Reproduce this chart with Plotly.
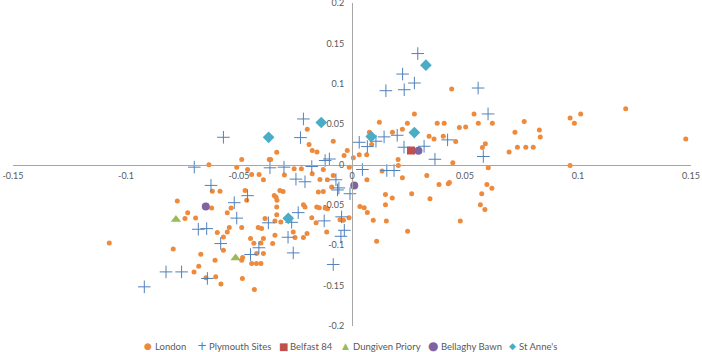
import plotly.graph_objects as go

# ---------------- data ----------------
london_x = [0.0695, 0.0732, 0.0769, 0.0802, 0.0721, 0.0762, 0.0829, 0.0833, 0.0965, 0.0984,
            0.1012, 0.1211, 0.1477, 0.0965, 0.0441, 0.054, 0.0559, 0.0621, 0.0475, 0.0503,
            0.0459, 0.0446, 0.059, 0.0577, 0.0603, 0.0426, 0.0431, 0.0597, 0.0619, 0.0574,
            0.0568, 0.0588, 0.0479, 0.0404, 0.0408, 0.0377,
            0.0276, 0.0121, 0.0179, 0.0223, 0.0245, 0.0077, 0.0087, 0.0065, 0.0032, 0.0006,
            0.0204, 0.0205, 0.0133, 0.0066, 0.0223, 0.0331, 0.0341, 0.0363, 0.0385, 0.0345,
            0.0264, 0.0178, 0.0148, 0.0148, 0.0152, 0.0246, 0.0109, 0.0094, 0.0068, 0.0054,
            0.0035, -0.0013,
            -0.0198, -0.019, -0.0176, -0.0155, -0.0083, -0.0021, -0.0035, -0.0256, -0.0224, -0.0176,
            -0.0127, -0.0012, -0.0083, -0.0109, -0.0142, -0.009, -0.0127, -0.0149, -0.0215, -0.0208,
            -0.0156, -0.0145, -0.0119, -0.0108, -0.0178, -0.0159, -0.0053, -0.0038, -0.0299,
            -0.0366, -0.036, -0.0333, -0.0444, -0.0411, -0.0392, -0.0462, -0.0488, -0.051, -0.0633,
            -0.0319, -0.0305, -0.0344, -0.0336, -0.0332, -0.0333, -0.0333, -0.0385, -0.0341, -0.0315,
            -0.0415, -0.04, -0.026, -0.0252, -0.0215, -0.0199, -0.0112, -0.0449, -0.0434, -0.0403,
            -0.0351, -0.0392, -0.0422, -0.0392, -0.0444, -0.0423, -0.0403, -0.0432, -0.0473, -0.0466,
            -0.0341, -0.0488,
            -0.0618, -0.0584, -0.0773, -0.0727, -0.0739, -0.0692, -0.0621, -0.0552, -0.0535, -0.0596,
            -0.0552, -0.0543, -0.0569, -0.1074, -0.0791, -0.0569, -0.0669, -0.0606, -0.0484, -0.0488,
            -0.0678, -0.0699, -0.0646, -0.0603, -0.058, -0.0485]
london_y = [0.0154, 0.0214, 0.0214, 0.0214, 0.0399, 0.0531, 0.0428, 0.0342, 0.0577, 0.051,
            0.0626, 0.0691, 0.0317, -0.0012, 0.0935, 0.0626, 0.051, 0.051, 0.0457, 0.0465,
            0.0284, 0.0021, 0.0256, 0.021, -0.0041, -0.0238, -0.0222, -0.0247, -0.0293, -0.0362,
            -0.0498, -0.0556, -0.07, 0.0349, 0.051, 0.0512,
            0.0626, 0.0522, 0.0399, 0.0438, 0.051, 0.0399, 0.0247, 0.012, 0.012, 0.0083,
            0.0062, -0.0012, -0.008, -0.0189, -0.0164, -0.0136, 0.0349, 0.0315, -0.0247, -0.0423,
            -0.0362, -0.0416, -0.0373, -0.0498, -0.07, -0.0827, -0.0951, -0.0691, -0.0595, -0.0537,
            -0.0521, -0.066,
            0.0436, 0.0247, 0.0173, 0.0154, 0.0288, 0.0173, 0.0111, -0.0053, -0.0053, -0.0115,
            -0.0062, -0.0033, -0.0136, -0.0189, -0.0185, -0.028, -0.0333, -0.0342, -0.0498, -0.0527,
            -0.0527, -0.0537, -0.054, -0.0547, -0.066, -0.072, -0.0683, -0.0691, -0.013,
            0.0062, 0.0062, 0.0152, -0.0123, -0.0123, -0.0188, -0.0062, 0.0062, -0.0033, -0.0004,
            -0.0321, -0.0333, -0.0383, -0.0407, -0.0444, -0.0527, -0.0621, -0.067, -0.07, -0.0712,
            -0.0781, -0.0794, -0.0836, -0.0905, -0.0905, -0.0856, -0.0836, -0.0917, -0.0975, -0.0972,
            -0.0979, -0.0917, -0.1102, -0.1102, -0.1226, -0.1226, -0.1226, -0.1547, -0.0321, -0.0444,
            -0.0877, -0.0781,
            -0.033, -0.033, -0.0453, -0.0596, -0.067, -0.0663, -0.054, -0.0596, -0.054, -0.0843,
            -0.0836, -0.0781, -0.0898, -0.0972, -0.1046, -0.1062, -0.1111, -0.1185, -0.1152, -0.1185,
            -0.1259, -0.133, -0.1404, -0.1391, -0.1481, -0.1411]

plymouth_x = [0.0291, 0.0224, 0.0276, 0.015, 0.0231, 0.0558, 0.0602, 0.0032, 0.0068, 0.0106,
              0.0142, 0.02, 0.023, 0.0319, 0.0423, 0.0367, 0.0581, 0.0046, 0.0154, 0.0186,
              -0.0228, -0.0119, -0.01, -0.0178, -0.0248, -0.0208, -0.0071, -0.0058, -0.0064, -0.0009,
              -0.0238, -0.0046, -0.0363, -0.0301, -0.0462, -0.037, -0.0267, -0.0123, -0.0034, -0.0049,
              -0.0283, -0.0412, -0.0449, -0.026, -0.0083, -0.0698, -0.0624, -0.0521, -0.051, -0.068,
              -0.0643, -0.0581, -0.0823, -0.0754, -0.0919, -0.064, -0.0569, -0.0215]
plymouth_y = [0.1374, 0.112, 0.1009, 0.0914, 0.0926, 0.0947, 0.0626, 0.0275, 0.0222, 0.0288,
              0.0342, 0.0362, 0.0214, 0.0226, 0.0305, 0.0065, 0.0099, -0.0062, -0.0074, -0.0074,
              0.0333, 0.0049, 0.0068, -0.0025, -0.0181, -0.0214, -0.0189, -0.029, -0.0315, -0.0362,
              -0.0596, -0.0648, -0.0041, -0.0033, -0.0386, -0.0722, -0.0716, -0.0698, -0.0815, -0.0889,
              -0.0901, -0.1031, -0.1115, -0.1095, -0.1238, -0.0033, -0.0259, -0.0473, -0.0664, -0.0802,
              -0.0794, -0.0979, -0.133, -0.133, -0.1515, -0.1411, 0.0337, 0.0564]

belfast_x = [0.0261]
belfast_y = [0.0173]

dungiven_x = [-0.0779, -0.0515]
dungiven_y = [-0.068, -0.1157]

bellaghy_x = [0.0294, -0.0647, 0.001]
bellaghy_y = [0.017, -0.052, -0.026]

stannes_x = [0.0327, 0.0276, 0.0085, -0.0369, -0.0136, -0.0282]
stannes_y = [0.123, 0.0395, 0.0346, 0.0337, 0.052, -0.0667]

series_names = ["London", "Plymouth Sites", "Belfast 84", "Dungiven Priory", "Bellaghy Bawn", "St Anne's"]

x_ticks = [-0.15, -0.1, -0.05, 0, 0.05, 0.1, 0.15]
x_tick_labels = ["-0.15", "-0.1", "-0.05", "0", "0.05", "0.1", "0.15"]
y_ticks = [-0.2, -0.15, -0.1, -0.05, 0, 0.05, 0.1, 0.15, 0.2]
y_tick_labels = ["-0.2", "-0.15", "-0.1", "-0.05", "0", "0.05", "0.1", "0.15", "0.2"]

# ---------------- styles ----------------
FONT = "Lato, 'Open Sans', sans-serif"
TXT = "#595959"
AXIS = "#A6A6A6"
colors = ["#EE8A3C", "#4F81BD", "#C0504D", "#9BBB59", "#8064A2", "#4BACC6"]
symbols = ["circle", "cross-thin", "square", "triangle-up", "circle", "diamond"]
sizes = [5, 9, 8, 9, 8, 9]
xs = [london_x, plymouth_x, belfast_x, dungiven_x, bellaghy_x, stannes_x]
ys = [london_y, plymouth_y, belfast_y, dungiven_y, bellaghy_y, stannes_y]

fig = go.Figure()
for name, x, y, c, s, sz in zip(series_names, xs, ys, colors, symbols, sizes):
    line = dict(width=1, color=c) if s == "cross-thin" else dict(width=0)
    fig.add_trace(go.Scatter(x=x, y=y, mode="markers", name=name, showlegend=False,
                             marker=dict(symbol=s, size=sz, color=c, line=line)))

# compact Excel-style legend row under the plot (symbol glyph + label text)
L, R, T, B, W, H = 13, 11, 3, 26, 702, 352
pw, ph = W - L - R, H - T - B
legend_glyphs = ["\u25CF", "+", "\u25A0", "\u25B2", "\u25CF", "\u25C6"]
glyph_sizes = [9, 12, 10, 9, 12, 9]
glyph_px = [148, 201.5, 283, 345.5, 433.5, 512]
label_px = [153, 207, 288, 351, 439, 517]
legend_y = (H - B - 346) / ph
for name, c, g, gs, gx, tx in zip(series_names, colors, legend_glyphs, glyph_sizes, glyph_px, label_px):
    fig.add_annotation(x=(gx - L) / pw, y=legend_y, xref="paper", yref="paper", text=g,
                       showarrow=False, xanchor="center", yanchor="middle",
                       font=dict(family="DejaVu Sans", size=gs, color=c))
    fig.add_annotation(x=(tx - L) / pw, y=legend_y, xref="paper", yref="paper", text=name,
                       showarrow=False, xanchor="left", yanchor="middle",
                       font=dict(family=FONT, size=9.5, color=TXT))

fig.update_layout(
    width=W, height=H,
    margin=dict(l=L, r=R, t=T, b=B, autoexpand=False),
    paper_bgcolor="white", plot_bgcolor="white",
    font=dict(family=FONT, size=9, color=TXT),
    showlegend=False,
    xaxis=dict(range=[-0.15, 0.15], anchor="free", position=0.5, automargin=False,
               showgrid=False, zeroline=False, showline=True, linecolor=AXIS, linewidth=1,
               tickmode="array", tickvals=x_ticks, ticktext=x_tick_labels, ticks="",
               ticklabeloverflow="allow", ticklabelstandoff=3,
               tickfont=dict(family=FONT, size=9, color=TXT)),
    yaxis=dict(range=[-0.2, 0.2], anchor="free", position=0.5, automargin=False,
               showgrid=False, zeroline=False, showline=True, linecolor=AXIS, linewidth=1,
               tickmode="array", tickvals=y_ticks, ticktext=y_tick_labels, ticks="",
               ticklabeloverflow="allow", ticklabelstandoff=6,
               tickfont=dict(family=FONT, size=9, color=TXT)),
)

# remove the browser's default 8px page margin so the 702x352 figure fills the window
fig.write_html("out.html", config={"displayModeBar": False},
               post_script="document.body.style.margin='0px';document.body.style.padding='0px';"
                           "document.documentElement.style.overflow='hidden';")
